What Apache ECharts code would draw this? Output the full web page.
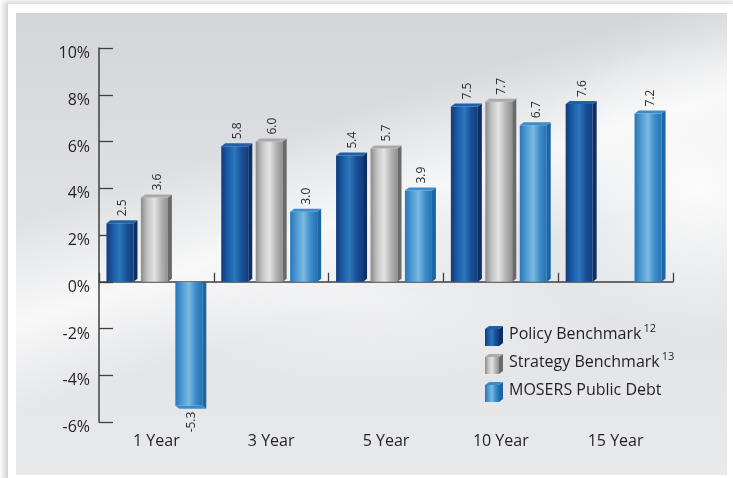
<!DOCTYPE html>
<html>
<head>
<meta charset="utf-8">
<script src="https://cdn.jsdelivr.net/npm/echarts@6/dist/echarts.min.js"></script>
<style>
  html, body { margin: 0; padding: 0; background: #fff; }
  #card {
    position: absolute; left: 8px; top: 4px; width: 730px; height: 480px;
    background: #fff;
    box-shadow: -4px -2px 6px rgba(0,0,0,0.2);
  }
  #panel {
    position: absolute; left: 16px; top: 13px; width: 711px; height: 462px;
    background:
      radial-gradient(ellipse 180px 150px at 96% 38%, rgba(255,255,255,0.9), rgba(255,255,255,0) 100%),
      radial-gradient(ellipse 260px 90px at 50% 62%, rgba(255,255,255,0.5), rgba(255,255,255,0) 100%),
      linear-gradient(162deg, rgba(255,255,255,0) 30%, rgba(255,255,255,0.75) 45%, rgba(255,255,255,0) 58%),
      linear-gradient(180deg, #d3d5d8 0%, #dddfe2 35%, #e3e4e6 70%, #e8e9eb 100%);
  }
  #chart { position: absolute; left: 0; top: 0; width: 733px; height: 478px; }
</style>
</head>
<body>
<div id="card"></div>
<div id="panel"></div>
<div id="chart"></div>
<script>
// Annual returns by horizon (percent)
const categories = ['1 Year', '3 Year', '5 Year', '10 Year', '15 Year'];
const policyBenchmark = [2.5, 5.8, 5.4, 7.5, 7.6];
const strategyBenchmark = [3.6, 6.0, 5.7, 7.7, null];
const mosersPublicDebt = [-5.3, 3.0, 3.9, 6.7, 7.2];
const seriesNames = ['Policy Benchmark', 'Strategy Benchmark', 'MOSERS Public Debt'];
const seriesNotes = ['12', '13', ''];
const seriesValues = [policyBenchmark, strategyBenchmark, mosersPublicDebt];

const FONT = '"Open Sans", "Liberation Sans", sans-serif';
const TEXT = '#231f20';
const AXIS = '#3f3f3f';

// Face colours of each 3D bar: front gradient stops, side, cap
const palettes = [
  { front: ['#0f3c7d', '#1b5ca6', '#2a78bd', '#1a4f95', '#123d7e'], side: '#0c2f66', cap: '#2160a8' },
  { front: ['#8b8b8b', '#c4c4c4', '#e4e4e4', '#b4b4b4', '#909090'], side: '#6a6a6a', cap: '#a9a9a9' },
  { front: ['#2677ba', '#4f9bd3', '#7bb9e1', '#3e8ccb', '#2273b5'], side: '#1c66a6', cap: '#3b8ccd' }
];

function frontFill(p) {
  const n = p.front.length;
  return new echarts.graphic.LinearGradient(0, 0, 1, 0,
    p.front.map((c, i) => ({ offset: i / (n - 1), color: c })));
}

const SIDE = 4, DEPTH = 3;

function bar3d(xl, top, fw, h, p, negative) {
  const xr = xl + fw, bot = top + h;
  const children = [
    { type: 'rect', shape: { x: xl, y: top, width: fw, height: h }, style: { fill: frontFill(p) } }
  ];
  if (!negative) {
    children.push({ type: 'polygon', shape: { points: [[xr, top], [xr + SIDE, top - DEPTH], [xr + SIDE, bot - DEPTH], [xr, bot]] }, style: { fill: p.side } });
    children.push({ type: 'polygon', shape: { points: [[xl, top], [xl + SIDE, top - DEPTH], [xr + SIDE, top - DEPTH], [xr, top]] }, style: { fill: p.cap } });
  } else {
    children.push({ type: 'polygon', shape: { points: [[xr, top], [xr + SIDE, top], [xr + SIDE, bot + DEPTH], [xr, bot]] }, style: { fill: p.side } });
    children.push({ type: 'polygon', shape: { points: [[xl, bot], [xl + SIDE, bot + DEPTH], [xr + SIDE, bot + DEPTH], [xr, bot]] }, style: { fill: p.cap } });
  }
  return children;
}

function makeRender(si) {
  return function (params, api) {
    const ci = api.value(0);
    const v = api.value(1);
    if (v == null || isNaN(v)) return null;
    const band = api.size([1, 0])[0];
    const pitch = band * 0.3;
    const total = band * 0.27;
    const fw = total - SIDE;
    const base = api.coord([ci, 0]);
    const end = api.coord([ci, v]);
    const cx = base[0] + (si - 1) * pitch;
    const xl = cx - total / 2;
    const top = Math.min(base[1], end[1]);
    const h = Math.abs(base[1] - end[1]);
    const negative = v < 0;
    const children = bar3d(xl, top, fw, h, palettes[si], negative);
    const lx = xl + fw / 2 + 3;
    children.push({
      type: 'text',
      x: lx,
      y: negative ? top + h + DEPTH + 3 : top - DEPTH - 4,
      rotation: Math.PI / 2,
      style: {
        text: v.toFixed(1),
        fill: '#2a2a2a',
        font: '12px ' + FONT,
        align: negative ? 'right' : 'left',
        verticalAlign: 'middle'
      }
    });
    return { type: 'group', children };
  };
}

// Legend rows drawn as small 3D swatches with footnote superscripts
const legendItems = [];
seriesNames.forEach((name, i) => {
  const y = 329 + i * 28;
  legendItems.push({ type: 'group', children: bar3d(485, y, 14, 17, palettes[i], false) });
  legendItems.push({
    type: 'text', x: 509, y: y + 5,
    style: {
      text: '{n|' + name + '}' + (seriesNotes[i] ? '{s|' + seriesNotes[i] + '}' : ''),
      verticalAlign: 'middle',
      rich: {
        n: { fontSize: 16, fontFamily: FONT, fill: TEXT, color: TEXT, lineHeight: 22 },
        s: { fontSize: 11, fontFamily: FONT, fill: TEXT, color: TEXT, verticalAlign: 'top', padding: [0, 0, 0, 2] }
      }
    }
  });
});

const chart = echarts.init(document.getElementById('chart'), null, { renderer: 'canvas' });
chart.setOption({
  animation: false,
  backgroundColor: 'transparent',
  grid: { left: 99, right: 60, top: 48, bottom: 56 },
  xAxis: [
    {
      type: 'category', data: categories, position: 'bottom',
      axisLine: { show: false, onZero: false }, axisTick: { show: false },
      axisLabel: { color: TEXT, fontSize: 16, fontFamily: FONT, margin: 11 }
    },
    {
      type: 'category', data: categories, position: 'bottom',
      axisLine: { show: true, onZero: true, lineStyle: { color: AXIS, width: 1.5 } },
      axisTick: { show: true, inside: true, length: 9, lineStyle: { color: AXIS, width: 1.3 } },
      axisLabel: { show: false }
    }
  ],
  yAxis: {
    type: 'value', min: -6, max: 10, interval: 2,
    axisLine: { show: true, lineStyle: { color: AXIS, width: 1.5 } },
    axisTick: { show: true, inside: true, length: 14, lineStyle: { color: AXIS, width: 1.3 } },
    splitLine: { show: false },
    axisLabel: { color: TEXT, fontSize: 16, fontFamily: FONT, margin: 9, verticalAlign: 'top', lineHeight: 11, formatter: v => v + '%' }
  },
  series: seriesValues.map((vals, si) => ({
    type: 'custom',
    name: seriesNames[si],
    xAxisIndex: 0,
    renderItem: makeRender(si),
    encode: { x: 0, y: 1 },
    data: vals.map((v, i) => [i, v == null ? '-' : v]),
    z: 3
  })),
  graphic: legendItems
});
</script>
</body>
</html>
